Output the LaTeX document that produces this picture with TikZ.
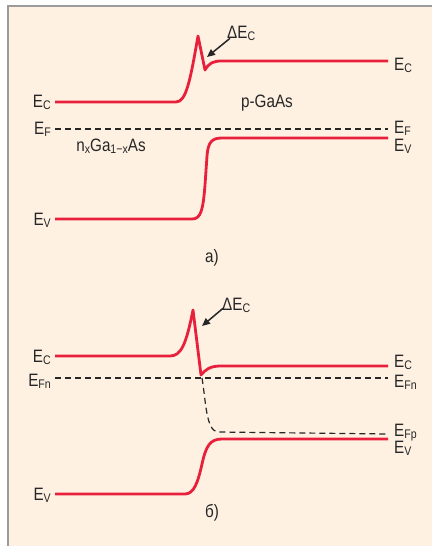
\documentclass[tikz,border=0pt]{standalone}
\usepackage{fontspec}
\setmainfont[FakeStretch=0.85]{Liberation Sans}
\usepackage{tikz}
\usetikzlibrary{arrows.meta,positioning}

\definecolor{bandred}{HTML}{E8203B}
\definecolor{panelbg}{HTML}{FEF1E2}
\definecolor{framegray}{HTML}{9B9B9B}

\newcommand{\lowidx}[1]{\raisebox{-2bp}{\fontsize{12.5}{12.5}\selectfont #1}}

\begin{document}
\begin{tikzpicture}[
  x=1bp, y=-1bp,
  font=\fontsize{18}{20}\selectfont,
  band/.style={draw=bandred, line width=2.8bp, line join=round},
  fermi/.style={draw=black!85, line width=1.2bp, dash pattern=on 6bp off 4bp},
  lbl/.style={inner sep=0pt, text=black!85},
  arrow/.style={-{Triangle[length=8bp,width=7bp]}, line width=1.5bp, black!85}
]
\useasboundingbox (0,0) rectangle (432,546);
\fill[panelbg] (8,6) rectangle (432,546);
\draw[framegray, line width=2bp] (8,546) -- (8,6) -- (432,6);

% a) equilibrium
\draw[band] (55,102) -- (176,102) .. controls (186,102) and (190,82) .. (198,36)
  -- (205,70) .. controls (209,63) and (213,61) .. (222,61) -- (388,61);
\draw[band] (55,219) -- (192,219) .. controls (201,219) and (203,210) .. (205,185)
  -- (207,156) .. controls (208,142) and (212,138) .. (222,138) -- (388,138);
\draw[fermi] (55,129) -- (388,129);

\node[lbl, anchor=base east] (ecla) at (51,108) {E\lowidx{C}};
\node[lbl, anchor=base east] (efla) at (51,135) {E\lowidx{F}};
\node[lbl, anchor=base east] (evla) at (51,225) {E\lowidx{V}};
\node[lbl, anchor=base west] (ecra) at (394,71) {E\lowidx{C}};
\node[lbl, anchor=base west] (efra) at (394,134) {E\lowidx{F}};
\node[lbl, anchor=base west] (evra) at (394,152) {E\lowidx{V}};
\node[lbl, anchor=base] (pgaas) at (267,108) {p-GaAs};
\node[lbl, anchor=base] (ngaas) at (111,152) {n\lowidx{x}Ga\lowidx{1−x}As};
\node[lbl, anchor=base west] (dEa) at (227,39) {ΔE\lowidx{C}};
\node[lbl, anchor=base] (capa) at (212,262) {a)};
\coordinate (tipa) at (207,57);
\draw[arrow] ([shift={(3,-3)}]dEa.south west) -- (tipa);

% b) forward bias
\draw[band] (55,356) -- (170,356) .. controls (181,356) and (186,345) .. (193,310)
  -- (201,375) .. controls (205,370) and (210,366) .. (220,366) -- (388,366);
\draw[band] (55,494) -- (185,494) .. controls (194,494) and (198,482) .. (202,464)
  .. controls (206,446) and (210,439) .. (222,439) -- (388,439);
\draw[fermi] (55,378) -- (388,378);
\draw[fermi] (202,378) .. controls (206,402) and (206,431) .. (218,432) -- (388,434);

\node[lbl, anchor=base east] (eclb) at (51,362) {E\lowidx{C}};
\node[lbl, anchor=base east] (efnlb) at (51,386) {E\lowidx{Fn}};
\node[lbl, anchor=base east] (evlb) at (51,500) {E\lowidx{V}};
\node[lbl, anchor=base west] (ecrb) at (394,367) {E\lowidx{C}};
\node[lbl, anchor=base west] (efnrb) at (394,387) {E\lowidx{Fn}};
\node[lbl, anchor=base west] (efprb) at (394,436) {E\lowidx{Fp}};
\node[lbl, anchor=base west] (evrb) at (394,453) {E\lowidx{V}};
\node[lbl, anchor=base west] (dEb) at (222,310) {ΔE\lowidx{C}};
\node[lbl, anchor=base] (capb) at (212,517) {б)};
\coordinate (tipb) at (202,326);
\draw[arrow] ([shift={(1,-4)}]dEb.south west) -- (tipb);

\end{tikzpicture}
\end{document}
